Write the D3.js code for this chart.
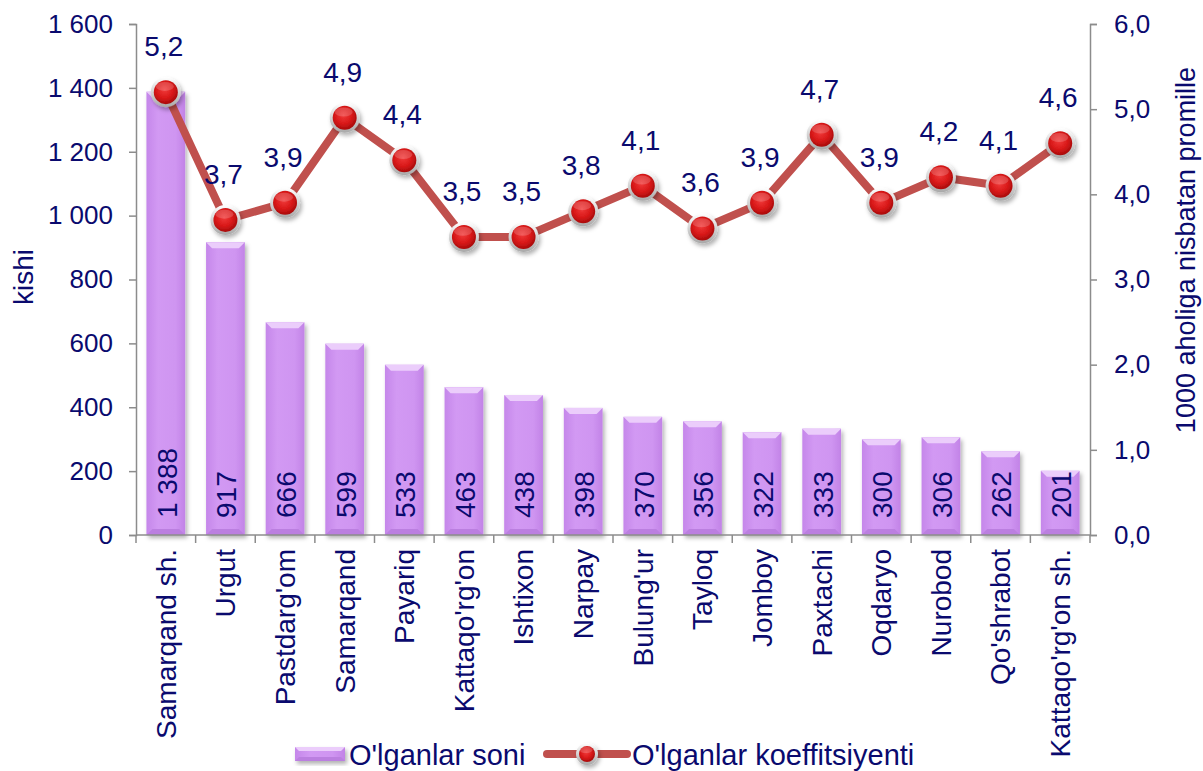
<!DOCTYPE html>
<html>
<head>
<meta charset="utf-8">
<script src="https://cdn.jsdelivr.net/npm/d3@7"></script>
<style>
  body { margin: 0; background: #fff; }
  svg { display: block; }
  text { font-family: "Liberation Sans", Arial, sans-serif; fill: #0a0a6e; }
</style>
</head>
<body>
<div id="chart"></div>
<script>
// districts of Samarqand region
const districts = ["Samarqand sh.", "Urgut", "Pastdarg'om", "Samarqand", "Payariq",
  "Kattaqo'rg'on", "Ishtixon", "Narpay", "Bulung'ur", "Tayloq", "Jomboy",
  "Paxtachi", "Oqdaryo", "Nurobod", "Qo'shrabot", "Kattaqo'rg'on sh."];
// number of deaths (bars, left axis)
const deaths = [1388, 917, 666, 599, 533, 463, 438, 398, 370, 356, 322, 333, 300, 306, 262, 201];
// death rate per 1000 (line, right axis)
const rates = [5.2, 3.7, 3.9, 4.9, 4.4, 3.5, 3.5, 3.8, 4.1, 3.6, 3.9, 4.7, 3.9, 4.2, 4.1, 4.6];
const leftTicks = [0, 200, 400, 600, 800, 1000, 1200, 1400, 1600];
const rightTicks = [0, 1, 2, 3, 4, 5, 6];
const seriesNames = ["O'lganlar soni", "O'lganlar koeffitsiyenti"];
const leftTitle = "kishi";
const rightTitle = "1000 aholiga nisbatan promille";

const width = 1203, height = 771;
const plot = { left: 136, right: 1090, top: 24, bottom: 535 };
const navy = "#0a0a6e";
const axisCol = "#8c8c8c";

const loc = d3.formatLocale({ decimal: ",", thousands: "\u00a0", grouping: [3], currency: ["", ""] });
const fmtInt = loc.format(",d");
const fmtDec = loc.format(".1f");

const svg = d3.select("#chart").append("svg")
  .attr("width", width)
  .attr("height", height);

const defs = svg.append("defs");

// bar gradient
const bg = defs.append("linearGradient").attr("id", "barGrad")
  .attr("x1", 0).attr("x2", 1).attr("y1", 0).attr("y2", 0);
bg.append("stop").attr("offset", "0%").attr("stop-color", "#c587ea");
bg.append("stop").attr("offset", "30%").attr("stop-color", "#d299f3");
bg.append("stop").attr("offset", "75%").attr("stop-color", "#cf95f1");
bg.append("stop").attr("offset", "100%").attr("stop-color", "#c283e7");

// marker gradient
const mg = defs.append("radialGradient").attr("id", "dotGrad")
  .attr("cx", "45%").attr("cy", "40%").attr("r", "60%");
mg.append("stop").attr("offset", "0%").attr("stop-color", "#f03a3a");
mg.append("stop").attr("offset", "60%").attr("stop-color", "#d81818");
mg.append("stop").attr("offset", "100%").attr("stop-color", "#a80c0c");

const ring = defs.append("linearGradient").attr("id", "ringGrad")
  .attr("x1", 0).attr("x2", 0).attr("y1", 0).attr("y2", 1);
ring.append("stop").attr("offset", "0%").attr("stop-color", "#ffffff");
ring.append("stop").attr("offset", "100%").attr("stop-color", "#a8a8a8");

const sh = defs.append("filter").attr("id", "shadow")
  .attr("x", "-30%").attr("y", "-30%").attr("width", "160%").attr("height", "160%");
sh.append("feDropShadow").attr("dx", 2).attr("dy", 3).attr("stdDeviation", 2)
  .attr("flood-color", "#000").attr("flood-opacity", 0.3);

// scales
const x = d3.scaleBand()
  .domain(districts)
  .range([plot.left, plot.right])
  .paddingInner(0.35)
  .paddingOuter(0.175);

const yL = d3.scaleLinear().domain([0, 1600]).range([plot.bottom, plot.top]);
const yR = d3.scaleLinear().domain([0, 6]).range([plot.bottom, plot.top]);

const cx = d => x(d) + x.bandwidth() / 2;

// bars
function bevelBar(g, bx, by, bw, bh, bev) {
  g.append("rect").attr("x", bx).attr("y", by).attr("width", bw).attr("height", bh)
    .attr("fill", "url(#barGrad)");
  g.append("polygon")
    .attr("points", [[bx, by], [bx + bw, by], [bx + bw - bev, by + bev], [bx + bev, by + bev]].join(" "))
    .attr("fill", "#ebcdfb");
  g.append("polygon")
    .attr("points", [[bx + bev, by + bh - bev], [bx + bw - bev, by + bh - bev], [bx + bw, by + bh], [bx, by + bh]].join(" "))
    .attr("fill", "#bb7fe0");
}

const bars = svg.append("g");
districts.forEach((d, i) => {
  const g = bars.append("g").attr("filter", "url(#shadow)");
  bevelBar(g, x(d), yL(deaths[i]), x.bandwidth(), yL(0) - yL(deaths[i]), 6);
});

// axes
const axL = svg.append("g").attr("transform", `translate(${plot.left},0)`)
  .call(d3.axisLeft(yL).tickValues(leftTicks).tickFormat(fmtInt).tickSize(7).tickPadding(16));
const axR = svg.append("g").attr("transform", `translate(${plot.right},0)`)
  .call(d3.axisRight(yR).tickValues(rightTicks).tickFormat(fmtDec).tickSize(7).tickPadding(17));
[axL, axR].forEach(a => {
  a.select(".domain").attr("stroke", axisCol).attr("stroke-width", 1.5);
  a.selectAll(".tick line").attr("stroke", axisCol).attr("stroke-width", 1.5);
  a.selectAll(".tick text").style("font-size", "26px").attr("fill", navy);
});

// category axis (ticks between bands)
const axB = svg.append("g");
axB.append("line")
  .attr("x1", plot.left).attr("x2", plot.right)
  .attr("y1", plot.bottom).attr("y2", plot.bottom)
  .attr("stroke", axisCol).attr("stroke-width", 1.5);
const boundaries = districts.map(d => x(d) - x.step() * x.paddingInner() / 2).concat([plot.right]);
axB.selectAll("line.tk").data(boundaries).enter().append("line")
  .attr("class", "tk")
  .attr("x1", d => d).attr("x2", d => d)
  .attr("y1", plot.bottom).attr("y2", plot.bottom + 8)
  .attr("stroke", axisCol).attr("stroke-width", 1.5);
axB.selectAll("text.cat").data(districts).enter().append("text")
  .attr("class", "cat")
  .attr("transform", d => `translate(${cx(d)},${plot.bottom + 14}) rotate(-90)`)
  .attr("text-anchor", "end")
  .attr("dy", "0.35em")
  .style("font-size", "28px")
  .text(d => d);

// bar value labels
svg.append("g").selectAll("text").data(districts).enter().append("text")
  .attr("transform", d => `translate(${cx(d) + 1},${plot.bottom - 17}) rotate(-90)`)
  .attr("text-anchor", "start")
  .attr("dy", "0.35em")
  .style("font-size", "28px")
  .text((d, i) => fmtInt(deaths[i]));

// line
const line = d3.line()
  .x((d, i) => cx(districts[i]))
  .y(d => yR(d));

svg.append("path")
  .datum(rates)
  .attr("d", line)
  .attr("fill", "none")
  .attr("stroke", "#c0504d")
  .attr("stroke-width", 8)
  .attr("stroke-linejoin", "round");

function marker(g, mx, my, r) {
  const m = g.append("g").attr("filter", "url(#shadow)");
  m.append("circle").attr("cx", mx).attr("cy", my).attr("r", r)
    .attr("fill", "url(#ringGrad)");
  m.append("circle").attr("cx", mx).attr("cy", my).attr("r", r - 3)
    .attr("fill", "url(#dotGrad)");
  m.append("ellipse").attr("cx", mx - 1).attr("cy", my - r * 0.38).attr("rx", r * 0.6).attr("ry", r * 0.3)
    .attr("fill", "#fff").attr("opacity", 0.18);
}

const dots = svg.append("g");
rates.forEach((v, i) => marker(dots, cx(districts[i]), yR(v), 15));

// line value labels
svg.append("g").selectAll("text").data(rates).enter().append("text")
  .attr("x", (d, i) => cx(districts[i]) - 2)
  .attr("y", d => yR(d) - 36)
  .attr("text-anchor", "middle")
  .style("font-size", "28px")
  .text(d => fmtDec(d));

// axis titles
svg.append("text")
  .attr("transform", `translate(23,277) rotate(-90)`)
  .attr("text-anchor", "middle")
  .attr("dy", "0.35em")
  .style("font-size", "28px")
  .text(leftTitle);
svg.append("text")
  .attr("transform", `translate(1186,250) rotate(-90)`)
  .attr("text-anchor", "middle")
  .attr("dy", "0.35em")
  .style("font-size", "27px")
  .text(rightTitle);

// legend
const lg = svg.append("g");
const ly = 754;
bevelBar(lg.append("g").attr("filter", "url(#shadow)"), 295, ly - 7, 50, 14, 4);
lg.append("text").attr("x", 349).attr("y", ly + 11).style("font-size", "29px").text(seriesNames[0]);
lg.append("line").attr("x1", 547).attr("x2", 627).attr("y1", ly).attr("y2", ly)
  .attr("stroke", "#c0504d").attr("stroke-width", 8).attr("stroke-linecap", "round");
marker(lg, 587, ly, 11);
lg.append("text").attr("x", 632).attr("y", ly + 11).style("font-size", "29px").text(seriesNames[1]);
</script>
</body>
</html>
